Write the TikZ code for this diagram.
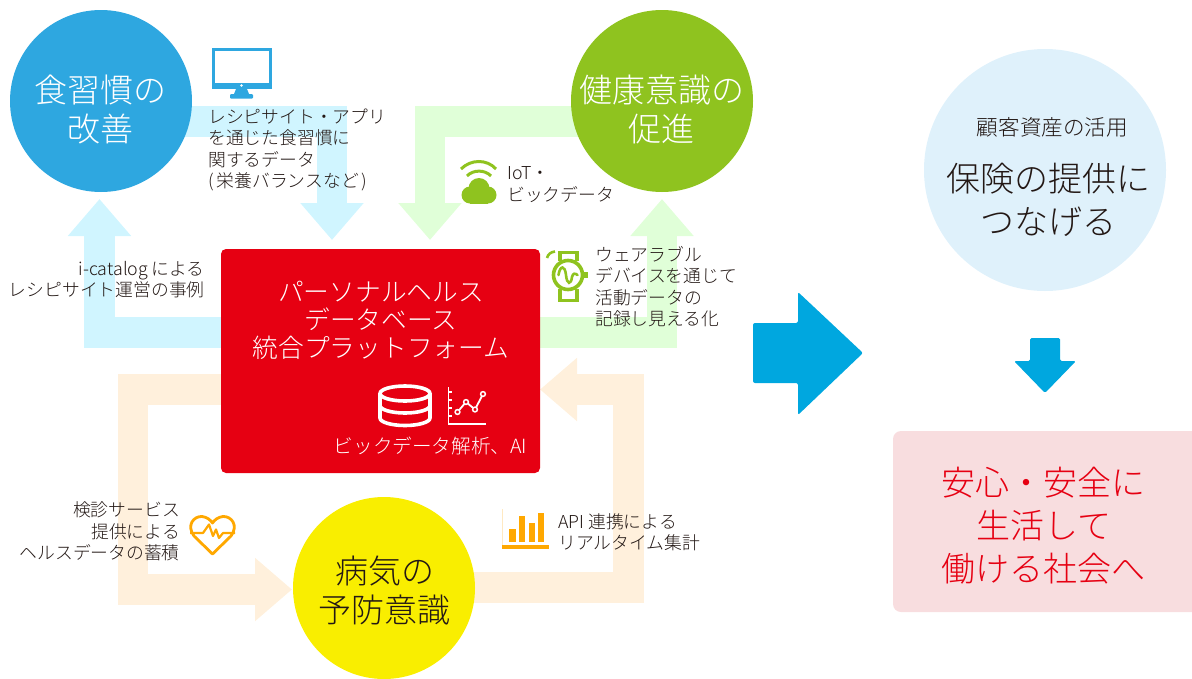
\documentclass[tikz,border=0pt]{standalone}
\usepackage{fontspec}
\setmainfont{Noto Sans CJK JP}[UprightFont=* Light]
\usetikzlibrary{arrows.meta,calc}
\definecolor{cBlue}{HTML}{2EA7E0}
\definecolor{cGreen}{HTML}{8FC31F}
\definecolor{cYellow}{HTML}{F9EE00}
\definecolor{cRed}{HTML}{E60012}
\definecolor{cPaleBlue}{HTML}{DFF1FB}
\definecolor{cPink}{HTML}{F8DDDF}
\definecolor{cArrow}{HTML}{00A7DF}
\definecolor{fBlue}{HTML}{D0F5FF}
\definecolor{fGreen}{HTML}{E0FFD8}
\definecolor{fOrange}{HTML}{FFF0DC}
\definecolor{cOrange}{HTML}{FFA800}
\definecolor{cInk}{HTML}{231815}
\tikzset{
  disc/.style={circle,minimum size=182pt,inner sep=0pt,draw=none},
  flowline/.style={line width=30.5pt,line join=miter,-{Triangle[length=37pt,width=61pt]}},
  bigtext/.style={inner sep=0pt,align=center,font=\fontsize{33}{38.5}\selectfont},
  midtext/.style={inner sep=0pt,align=center,font=\fontsize{34}{43}\selectfont},
  hubtext/.style={inner sep=0pt,align=center,text=white,font=\fontsize{25.7}{28}\selectfont},
  notel/.style={inner sep=0pt,anchor=west,align=left,text=cInk,font=\fontsize{17.8}{21.3}\selectfont},
  noter/.style={inner sep=0pt,anchor=east,align=right,text=cInk,font=\fontsize{17.8}{21.3}\selectfont},
}
\begin{document}
\begin{tikzpicture}[x=1pt,y=-1pt]
\useasboundingbox (0,0) rectangle (1192,678);
\clip (0,0) rectangle (1192,678);

\coordinate (foodC) at (101,101);
\coordinate (healthC) at (662,101);
\coordinate (illC) at (384,588);
\coordinate (hubC) at (380.5,361);
\coordinate (tipHubA) at (332,240);
\coordinate (tipFood) at (99.5,199);
\coordinate (tipHubB) at (430,240);
\coordinate (tipHealth) at (662,199);
\coordinate (tipIll) at (292,589.5);
\coordinate (tipHubC) at (540,389.5);

% flows
\draw[flowline,fBlue] ($(foodC)+(0,20.5)$) -| (tipHubA);
\draw[flowline,fBlue] ($(hubC)+(0,-28.5)$) -| (tipFood);
\draw[flowline,fGreen] ($(healthC)+(0,20.5)$) -| (tipHubB);
\draw[flowline,fGreen] ($(hubC)+(0,-28.5)$) -| (tipHealth);
\draw[flowline,fOrange] ($(hubC)+(0,28.5)$) -- ++(-247.5,0) |- (tipIll);
\draw[flowline,fOrange] ($(illC)+(0,-0.5)$) -- ++(244.5,0) |- (tipHubC);

% discs and boxes
\node[disc,fill=cBlue] (food) at (foodC) {};
\node[disc,fill=cGreen] (health) at (healthC) {};
\node[disc,fill=cYellow] (ill) at (illC) {};
\node[disc,minimum size=242pt,fill=cPaleBlue] (asset) at (1045,170) {};
\node[fill=cRed,rounded corners=5pt,minimum width=319pt,minimum height=224pt,inner sep=0pt] (hub) at (hubC) {};
\fill[cPink,rounded corners=8pt] (893,431) rectangle (1215,612);

% big arrows
\fill[cArrow,rounded corners=2pt] (753,323) -- (798,323) -- (798,292) -- (863,353) -- (798,415) -- (798,383) -- (753,383) -- cycle;
\fill[cArrow,rounded corners=1.5pt] (1030,338) -- (1060,338) -- (1060,361) -- (1076,361) -- (1045,393) -- (1014,361) -- (1030,361) -- cycle;

% titles
\node[bigtext,text=white] (foodT) at (100.5,109.5) {食習慣の\\改善};
\node[bigtext,text=white] (healthT) at (661.5,109.5) {健康意識の\\促進};
\node[bigtext,text=cInk] (illT) at (384.5,590.5) {病気の\\予防意識};
\node[inner sep=0pt,text=cInk,font=\fontsize{21.6}{25}\selectfont] (assetS) at (1052.5,127.5) {顧客資産の活用};
\node[midtext,text=cInk] (assetT) at (1048,199.5) {保険の提供に\\つなげる};
\node[midtext,text=cRed] (safeT) at (1043.5,525.5) {安心・安全に\\生活して\\働ける社会へ};
\node[hubtext] (hubT) at (381,320) {パーソナルヘルス\\データベース\\統合プラットフォーム};
\node[inner sep=0pt,text=white,font=\fontsize{19.6}{22}\selectfont] (hubS) at (430.5,446) {ビックデータ解析、AI};

% notes
\node[notel] (n1) at (208,150) {レシピサイト・アプリ\\を通じた食習慣に\\関するデータ\\(\hspace{3pt}栄養バランスなど\hspace{3pt})};
\node[noter] (n2) at (205,279.5) {i-catalog による\\レシピサイト運営の事例};
\node[notel] (n3) at (507,184.5) {IoT・\\ビックデータ};
\node[notel] (n4) at (595,286.5) {ウェアラブル\\デバイスを通じて\\活動データの\\記録し見える化};
\node[noter] (n5) at (180,531.5) {検診サービス\\提供による\\ヘルスデータの蓄積};
\node[notel] (n6) at (558,532.5) {API 連携による\\リアルタイム集計};

% monitor icon
\fill[cBlue] (212,48) rectangle (272,89);
\fill[white] (215,51) rectangle (269,83);
\fill[white] (241.5,85.5) circle (1.4);
\fill[cBlue] (236,89) -- (247,89) -- (249,94) -- (234,94) -- cycle;
\fill[cBlue,rounded corners=1pt] (230,94) rectangle (253,98.5);

% wifi cloud icon
\fill[cGreen] (470,195) circle (8.5);
\fill[cGreen] (488,195) circle (8.5);
\fill[cGreen] (479,188.5) circle (10.5);
\fill[cGreen] (470,192) rectangle (488,203.5);
\draw[cGreen,line width=3pt] (461,169) .. controls (471,159) and (487,159) .. (496,169);
\draw[cGreen,line width=3pt] (467,176) .. controls (473,169.5) and (485,169.5) .. (491,176);

% watch icon
\draw[cGreen,line width=3.6pt] (568,275) circle (14.5);
\draw[cGreen,line width=3.6pt] (560,261) -- (560,252.5) -- (577,252.5) -- (577,261);
\draw[cGreen,line width=3.6pt] (560,289) -- (560,300.5) -- (577,300.5) -- (577,289);
\fill[cGreen] (584,272) rectangle (587.5,278);
\draw[cGreen,line width=2.6pt] (547,258) .. controls (548,254) and (551,252) .. (555,251.5);
\draw[cGreen,line width=2.6pt,line cap=round] (558.5,275) .. controls (560,265) and (565,265) .. (566,275) .. controls (567,285) and (571,285) .. (572,277) .. controls (573,273) and (575,273) .. (577.5,275);

% database icon
\draw[white,line width=3.6pt] (405,393.5) ellipse (25 and 7.5);
\draw[white,line width=3.6pt] (380,393.5) -- (380,418) arc[start angle=180,end angle=360,x radius=25,y radius=-7.5] -- (430,393.5);
\draw[white,line width=3.6pt] (380,405.5) arc[start angle=180,end angle=360,x radius=25,y radius=-7.5];

% chart icon
\draw[white,line width=1.8pt] (448.5,387) -- (448.5,424) -- (486,424);
\foreach \ty in {392,400,408,416} \draw[white,line width=1.2pt] (448.5,\ty) -- (452,\ty);
\draw[white,line width=1.8pt] (457.5,412) -- (466,402) -- (475,409.5) -- (483,394);
\foreach \px/\py in {457.5/412,466/402,475/409.5,483/394} \draw[white,fill=cRed,line width=1.5pt] (\px,\py) circle (2.4);

% heart icon
\draw[cOrange,line width=2.8pt,line join=round] (212.5,554) -- (194,536) .. controls (186,525) and (194,516) .. (202,516.5) .. controls (207,517) and (210.5,520) .. (212.5,523) .. controls (214.5,520) and (218,517) .. (223,516.5) .. controls (231,516) and (239,525) .. (231,536) -- cycle;
\draw[cOrange,line width=2.2pt,line join=round] (190,533) -- (203,533) -- (209,524.5) -- (213,536) -- (216,529.5) -- (219,538) -- (223,533) -- (235,533);

% bar chart icon
\fill[fOrange!60!cOrange!50] (502,509) rectangle (503,545);
\fill[cOrange] (502,545) rectangle (549,548.5);
\fill[cOrange] (509,529) rectangle (515.5,542);
\fill[cOrange] (518.5,516) rectangle (525,542);
\fill[cOrange] (528.5,523) rectangle (535,542);
\fill[cOrange] (538,513) rectangle (544,542);
\end{tikzpicture}
\end{document}
